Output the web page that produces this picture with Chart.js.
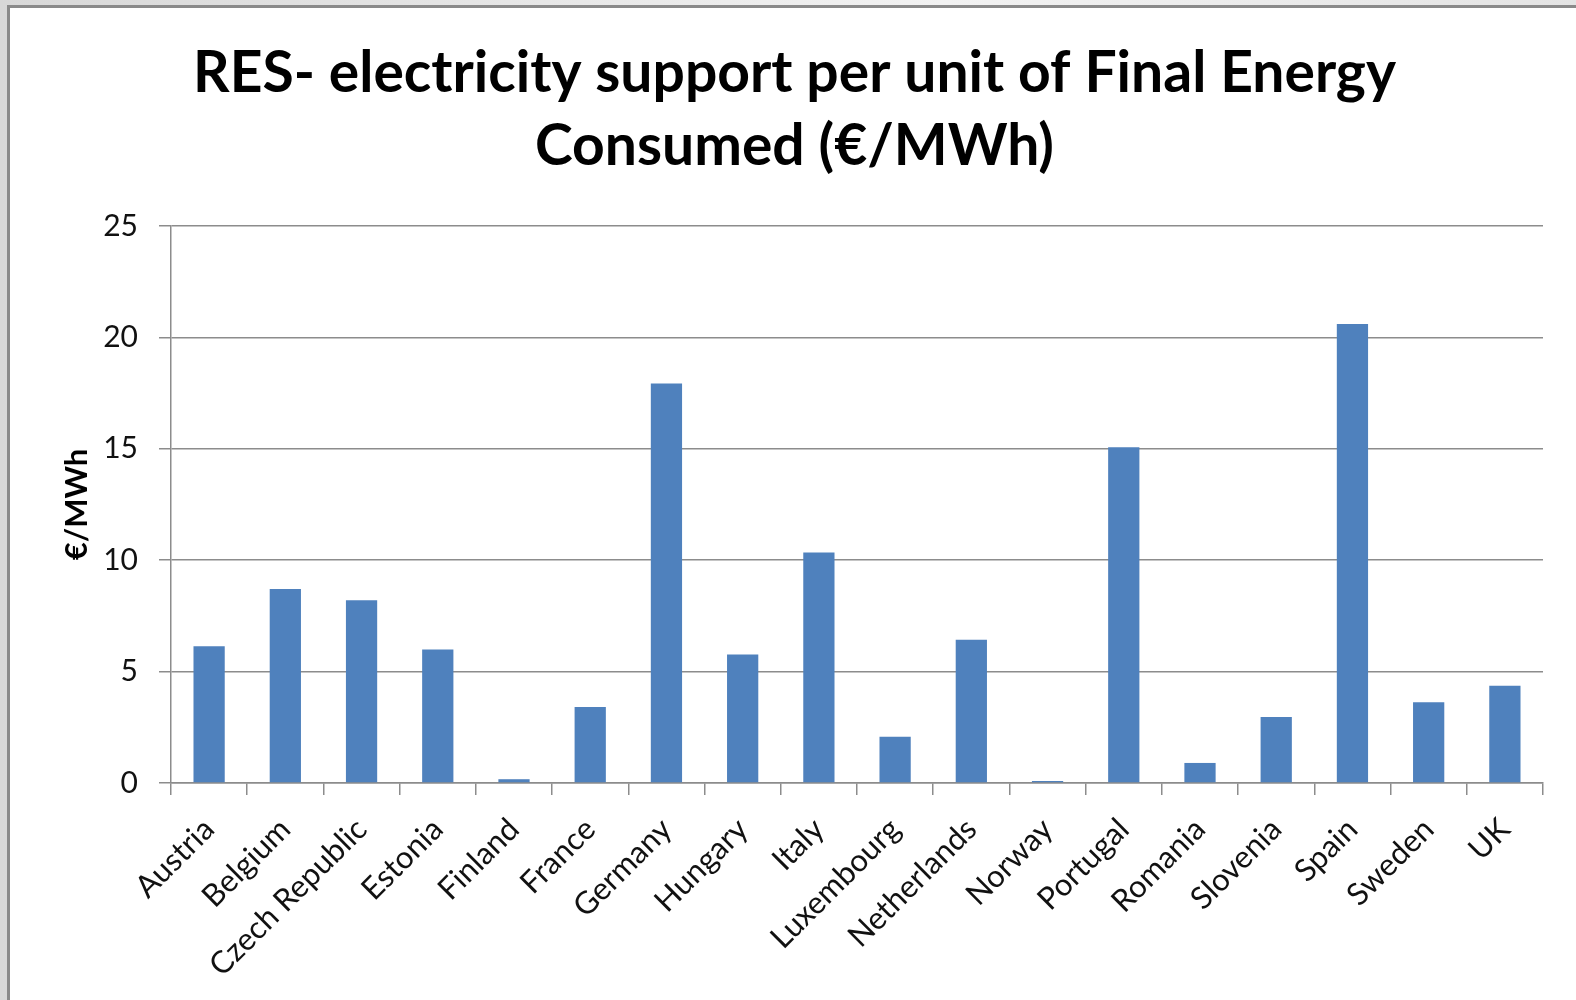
<!DOCTYPE html>
<html>
<head>
<meta charset="utf-8">
<script src="https://cdn.jsdelivr.net/npm/chart.js@4"></script>
<style>
  html, body { margin: 0; padding: 0; overflow: hidden; }
  body {
    width: 1576px; height: 1000px;
    background: linear-gradient(90deg, #d8d8d8, #f2f2f2 60%, #e4e4e4);
  }
  #frame {
    position: absolute; left: 7px; top: 5px;
    width: 1600px; height: 1020px;
    border: 3px solid #8a8a8a;
    background: #fff;
    overflow: hidden;
  }
  #myChart { display: block; }
</style>
</head>
<body>
<div id="frame"><canvas id="myChart" width="1566" height="992"></canvas></div>
<script>
var titleLines = ["RES- electricity support per unit of Final Energy", "Consumed (\u20ac/MWh)"];
var yTitle = "\u20ac/MWh";
var countries = ["Austria", "Belgium", "Czech Republic", "Estonia", "Finland", "France",
  "Germany", "Hungary", "Italy", "Luxembourg", "Netherlands", "Norway", "Portugal",
  "Romania", "Slovenia", "Spain", "Sweden", "UK"];
var support = [6.14, 8.71, 8.2, 5.99, 0.17, 3.41, 17.93, 5.77, 10.35, 2.08, 6.43, 0.09,
  15.07, 0.9, 2.96, 20.6, 3.62, 4.37];
var yMin = 0, yMax = 25, yStep = 5;

var font = "Lato, 'Open Sans', sans-serif";
var gridGray = "#8c8c8c";

const ctx = document.getElementById("myChart").getContext("2d");
var supportChart = new Chart(ctx, {
  type: "bar",
  data: {
    labels: countries,
    datasets: [
      {
        label: yTitle,
        data: support,
        backgroundColor: "#4f81bd",
        borderWidth: 0,
        barPercentage: 0.41,
        categoryPercentage: 1.0,
      },
    ],
  },
  options: {
    responsive: false,
    animation: false,
    layout: { padding: { left: 36, right: 33, top: 0, bottom: 0 } },
    plugins: {
      legend: { display: false },
      tooltip: { enabled: false },
      title: {
        display: true,
        text: titleLines,
        color: "#000",
        font: { family: font, size: 57, weight: "bold", lineHeight: "73px" },
        padding: { top: 29, bottom: 43 },
      },
    },
    scales: {
      x: {
        afterFit: (s) => { s.height = 217; },
        border: { display: true, color: gridGray, width: 1.5 },
        grid: {
          offset: true,
          drawOnChartArea: false,
          drawTicks: true,
          tickLength: 12,
          color: gridGray,
          lineWidth: 1.5,
        },
        ticks: {
          color: "#111",
          font: { family: font, size: 31 },
          minRotation: 45,
          maxRotation: 45,
          padding: 16,
          autoSkip: false,
        },
      },
      y: {
        min: yMin,
        max: yMax,
        afterFit: (s) => { s.width = 125; },
        border: { display: true, color: gridGray, width: 1.5 },
        grid: {
          color: gridGray,
          lineWidth: 1.5,
          drawTicks: true,
          tickLength: 12,
        },
        ticks: {
          stepSize: yStep,
          color: "#111",
          font: { family: font, size: 30 },
          padding: 21,
        },
        title: {
          display: true,
          text: yTitle,
          color: "#000",
          font: { family: font, size: 31, weight: "bold" },
          padding: { top: 12, bottom: 0 },
        },
      },
    },
  },
});
</script>
</body>
</html>
